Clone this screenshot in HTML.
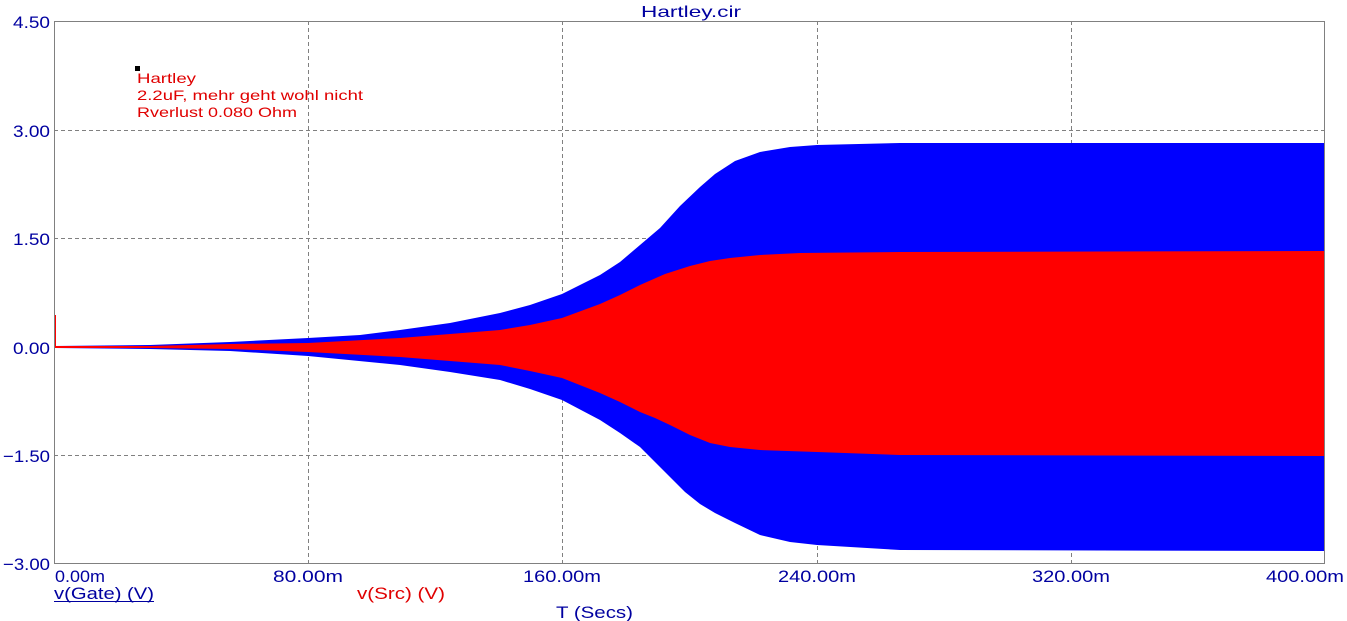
<!DOCTYPE html>
<html><head><meta charset="utf-8"><style>
html,body{margin:0;padding:0;background:#fff;}
svg{display:block;font-family:"Liberation Sans",sans-serif;}
</style></head><body>
<svg width="1347" height="621" viewBox="0 0 1347 621">
<g stroke="#808080" stroke-width="1" stroke-dasharray="4,3" fill="none">
<line x1="308.5" y1="21" x2="308.5" y2="564"/>
<line x1="562.5" y1="21" x2="562.5" y2="564"/>
<line x1="817.5" y1="21" x2="817.5" y2="564"/>
<line x1="1071.5" y1="21" x2="1071.5" y2="564"/>
<line x1="54" y1="130.5" x2="1325" y2="130.5"/>
<line x1="54" y1="238.5" x2="1325" y2="238.5"/>
<line x1="54" y1="347.5" x2="1325" y2="347.5"/>
<line x1="54" y1="455.5" x2="1325" y2="455.5"/>
</g>
<path fill="#0000ff" d="M55,346 L150,345 L230,342 L308,338 L360,335 L400,330 L450,323 L500,313 L530,305 L562,294 L600,275 L620,262 L640,245 L660,228 L680,206 L700,187 L715,174 L735,161 L760,152 L790,147 L817,145 L900,143 L1325,143 L1325,551 L900,550 L817,545 L790,542 L760,535 L735,523 L715,513 L700,504 L685,492 L670,477 L655,462 L640,447 L620,433 L600,420 L562,400 L530,389 L500,380 L450,372 L400,365 L308,356 L230,351 L150,349 L55,348 Z"/>
<path fill="#ff0000" d="M55,346 L150,346 L230,344 L308,343 L400,338 L450,334 L500,330 L530,325 L562,318 L600,304 L620,295 L640,285 L665,274 L690,266 L710,261 L730,258 L760,255 L800,253 L900,252 L1325,251 L1325,456 L900,455 L817,452 L760,450 L730,447 L710,443 L690,435 L670,425 L655,418 L640,412 L620,402 L600,393 L562,378 L530,371 L500,365 L450,361 L400,357 L308,352 L230,349 L150,348 L55,348 Z"/>
<line x1="55" y1="315" x2="55" y2="346" stroke="#ff0000" stroke-width="2"/>
<rect x="54.5" y="21.5" width="1270" height="542" fill="none" stroke="#808080" stroke-width="1"/>
<text x="641" y="17" fill="#0000a0" font-size="16" textLength="100" lengthAdjust="spacingAndGlyphs">Hartley.cir</text>
<g fill="#0000a0" font-size="17">
<text x="13" y="28" textLength="37" lengthAdjust="spacingAndGlyphs">4.50</text>
<text x="13" y="137" textLength="37" lengthAdjust="spacingAndGlyphs">3.00</text>
<text x="13" y="245" textLength="37" lengthAdjust="spacingAndGlyphs">1.50</text>
<text x="13" y="354" textLength="37" lengthAdjust="spacingAndGlyphs">0.00</text>
<text x="3" y="462" textLength="47" lengthAdjust="spacingAndGlyphs">−1.50</text>
<text x="3" y="570" textLength="47" lengthAdjust="spacingAndGlyphs">−3.00</text>
</g>
<g fill="#0000a0" font-size="17">
<text x="55" y="582" textLength="50" lengthAdjust="spacingAndGlyphs">0.00m</text>
<text x="273" y="582" textLength="70" lengthAdjust="spacingAndGlyphs">80.00m</text>
<text x="523" y="582" textLength="78" lengthAdjust="spacingAndGlyphs">160.00m</text>
<text x="778" y="582" textLength="78" lengthAdjust="spacingAndGlyphs">240.00m</text>
<text x="1032" y="582" textLength="78" lengthAdjust="spacingAndGlyphs">320.00m</text>
<text x="1266" y="582" textLength="78" lengthAdjust="spacingAndGlyphs">400.00m</text>
<text x="556" y="618" textLength="77" lengthAdjust="spacingAndGlyphs">T (Secs)</text>
</g>
<text x="54" y="599" fill="#0000a0" font-size="17" textLength="100" lengthAdjust="spacingAndGlyphs">v(Gate) (V)</text>
<line x1="54" y1="601.5" x2="154" y2="601.5" stroke="#0000a0"/>
<text x="357" y="599" fill="#e00000" font-size="17" textLength="88" lengthAdjust="spacingAndGlyphs">v(Src) (V)</text>
<rect x="135" y="66" width="5" height="5" fill="#000"/>
<g fill="#e00000" font-size="14">
<text x="137" y="83" textLength="59" lengthAdjust="spacingAndGlyphs">Hartley</text>
<text x="137" y="100" textLength="226" lengthAdjust="spacingAndGlyphs">2.2uF, mehr geht wohl nicht</text>
<text x="137" y="117" textLength="160" lengthAdjust="spacingAndGlyphs">Rverlust 0.080 Ohm</text>
</g>
</svg>
</body></html>
